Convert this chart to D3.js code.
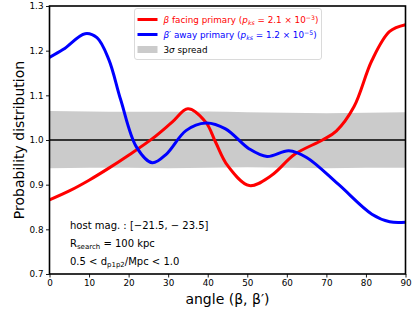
<!DOCTYPE html>
<html>
<head>
<meta charset="utf-8">
<script src="https://cdn.jsdelivr.net/npm/d3@7"></script>
<style>
  body { margin: 0; background: #fff; }
  svg { display: block; font-family: "DejaVu Sans", sans-serif; }
</style>
</head>
<body>
<svg id="chart" width="415" height="311"></svg>
<script>
// values
const redAngles = [0, 5, 10, 15, 20, 26, 31, 35, 39.5, 42, 45, 50.5, 56, 62, 69, 72.5, 77, 81.5, 86, 90]
const redValues = [0.866, 0.886, 0.910, 0.937, 0.966, 1.003, 1.040, 1.070, 1.040, 0.995, 0.943, 0.898, 0.920, 0.968, 1.000, 1.020, 1.075, 1.178, 1.243, 1.258]

const blueAngles = [0, 3.5, 9, 12, 15, 18, 22, 26, 29.5, 34.5, 39.5, 44.5, 50.5, 55, 60.5, 65, 73, 81.5, 86, 90]
const blueValues = [1.185, 1.203, 1.238, 1.229, 1.180, 1.090, 0.984, 0.949, 0.968, 1.021, 1.038, 1.025, 0.980, 0.963, 0.976, 0.961, 0.901, 0.834, 0.817, 0.816]

const bandAngles = [0, 10, 20, 30, 40, 50, 60, 70, 80, 90]
const bandUpper = [1.065, 1.064, 1.063, 1.063, 1.064, 1.062, 1.061, 1.060, 1.061, 1.062]
const bandLower = [0.937, 0.938, 0.938, 0.937, 0.938, 0.939, 0.938, 0.937, 0.938, 0.938]

const xTicks = [0, 10, 20, 30, 40, 50, 60, 70, 80, 90]
const yTicks = [0.7, 0.8, 0.9, 1.0, 1.1, 1.2, 1.3]

const margin = {left: 49.5, right: 9.5, top: 6, bottom: 37}
const width = 415
const height = 311

const svg = d3.select('#chart')

const x = d3.scaleLinear().domain([0, 90]).range([margin.left, width - margin.right])
const y = d3.scaleLinear().domain([0.7, 1.3]).range([height - margin.bottom, margin.top])

// writes mathtext-ish runs into a text element
function richText(sel, parts, size) {
  let shift = 0
  parts.forEach(p => {
    const target = p.sub ? size * 0.22 : p.sup ? -size * 0.36 : 0
    sel.append('tspan')
      .attr('dy', target - shift)
      .attr('font-style', p.it ? 'italic' : null)
      .attr('font-size', (p.sub || p.sup) ? size * 0.7 : null)
      .text(p.t)
    shift = target
  })
}

// 3 sigma band
const band = bandAngles.map((a, i) => ({a, lo: bandLower[i], hi: bandUpper[i]}))
svg.append('path')
  .datum(band)
  .attr('fill', '#cbcbcb')
  .attr('d', d3.area()
    .x(d => x(d.a))
    .y0(d => y(d.lo))
    .y1(d => y(d.hi))
    .curve(d3.curveMonotoneX))

svg.append('line')
  .attr('x1', x(0)).attr('x2', x(90))
  .attr('y1', y(1)).attr('y2', y(1))
  .attr('stroke', '#000')
  .attr('stroke-width', 1.3)

const line = d3.line()
  .x(d => x(d[0]))
  .y(d => y(d[1]))
  .curve(d3.curveCatmullRom.alpha(0.5))

svg.append('path')
  .datum(d3.zip(redAngles, redValues))
  .attr('fill', 'none')
  .attr('stroke', '#ff0000')
  .attr('stroke-width', 3)
  .attr('d', line)

svg.append('path')
  .datum(d3.zip(blueAngles, blueValues))
  .attr('fill', 'none')
  .attr('stroke', '#0000ff')
  .attr('stroke-width', 3)
  .attr('d', line)

// axes
const xAxis = svg.append('g')
  .attr('transform', `translate(0,${height - margin.bottom})`)
  .call(d3.axisBottom(x).tickValues(xTicks).tickSize(3.5).tickPadding(2.5).tickFormat(d3.format('d')))
const yAxis = svg.append('g')
  .attr('transform', `translate(${margin.left},0)`)
  .call(d3.axisLeft(y).tickValues(yTicks).tickSize(3.5).tickPadding(2.5).tickFormat(d3.format('.1f')))

for (const ax of [xAxis, yAxis]) {
  ax.select('.domain').remove()
  ax.selectAll('.tick line').attr('stroke', '#000').attr('stroke-width', 0.9)
  ax.selectAll('.tick text')
    .attr('fill', '#000')
    .attr('font-size', 8.8)
    .attr('font-family', '"DejaVu Sans", sans-serif')
}

svg.append('rect')
  .attr('x', x(0)).attr('y', y(1.3))
  .attr('width', x(90) - x(0)).attr('height', y(0.7) - y(1.3))
  .attr('fill', 'none')
  .attr('stroke', '#000')
  .attr('stroke-width', 1.6)

// axis labels
svg.append('text')
  .attr('x', (x(0) + x(90)) / 2)
  .attr('y', 304)
  .attr('text-anchor', 'middle')
  .attr('font-size', 14)
  .text('angle (β, β′)')

svg.append('text')
  .attr('transform', `translate(24,${(y(0.7) + y(1.3)) / 2}) rotate(-90)`)
  .attr('text-anchor', 'middle')
  .attr('font-size', 14)
  .text('Probability distribution')

// legend
const lg = svg.append('g')
lg.append('rect')
  .attr('x', 134.5).attr('y', 8.5)
  .attr('width', 187).attr('height', 51)
  .attr('rx', 2.5)
  .attr('fill', '#fff').attr('fill-opacity', 0.8)
  .attr('stroke', '#d6d6d6').attr('stroke-width', 0.9)

const legendRows = [
  {color: '#ff0000', parts: [{t: 'β', it: true}, {t: ' facing primary ('}, {t: 'p', it: true}, {t: 'ks', it: true, sub: true}, {t: ' = 2.1 × 10'}, {t: '−3', sup: true}, {t: ')'}]},
  {color: '#0000ff', parts: [{t: 'β′', it: true}, {t: ' away primary ('}, {t: 'p', it: true}, {t: 'ks', it: true, sub: true}, {t: ' = 1.2 × 10'}, {t: '−5', sup: true}, {t: ')'}]},
  {color: '#000', patch: true, parts: [{t: '3'}, {t: 'σ', it: true}, {t: ' spread'}]}
]
legendRows.forEach((r, i) => {
  const cy = 19.5 + i * 15
  if (r.patch) {
    lg.append('rect').attr('x', 137.5).attr('y', cy - 3.5).attr('width', 20).attr('height', 7)
      .attr('fill', '#cbcbcb')
  } else {
    lg.append('line').attr('x1', 137.5).attr('x2', 157.5).attr('y1', cy).attr('y2', cy)
      .attr('stroke', r.color).attr('stroke-width', 3)
  }
  const t = lg.append('text')
    .attr('x', 163.5).attr('y', cy + 3.2)
    .attr('font-size', 8.8)
    .attr('fill', r.color)
  richText(t, r.parts, 8.8)
})

// annotation
const notes = [
  [{t: 'host mag. : [−21.5, − 23.5]'}],
  [{t: 'R'}, {t: 'search', sub: true}, {t: ' = 100 kpc'}],
  [{t: '0.5 < d'}, {t: 'p1p2', sub: true}, {t: '/Mpc < 1.0'}]
]
notes.forEach((n, i) => {
  const t = svg.append('text')
    .attr('x', 70).attr('y', 228.5 + i * 18)
    .attr('font-size', 10)
    .attr('fill', '#000')
  richText(t, n, 10)
})
</script>
</body>
</html>
